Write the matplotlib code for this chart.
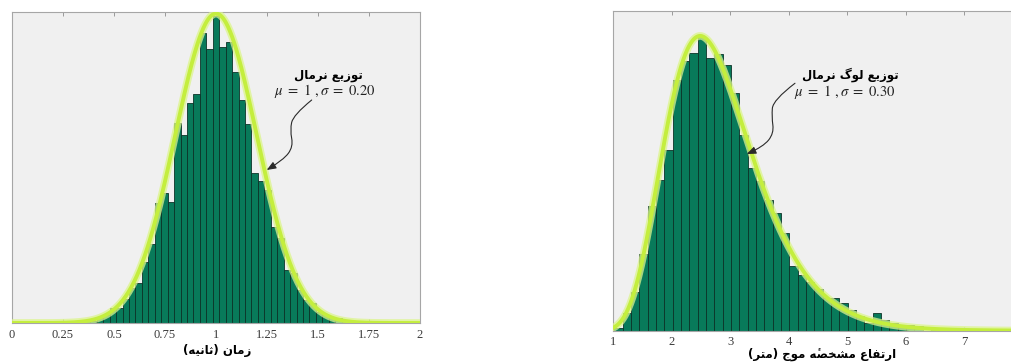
import numpy as np
import matplotlib
matplotlib.use("Agg")
import matplotlib.pyplot as plt
from matplotlib.path import Path
from matplotlib.patches import FancyArrowPatch

# ---------------- data ----------------
# left panel: normal distribution histogram (density)
left_bin_width = 0.0316
left_centers = 1.0 + left_bin_width * np.arange(-23, 27)
left_density = [0.006, 0.006, 0.010, 0.010, 0.013, 0.030, 0.052, 0.095, 0.099, 0.153,
                0.224, 0.260, 0.395, 0.507, 0.772, 0.840, 0.782, 1.287, 1.212, 1.418,
                1.476, 1.868, 1.765, 1.979, 1.777, 1.814, 1.616, 1.438, 1.281, 0.965,
                0.915, 0.857, 0.621, 0.550, 0.342, 0.320, 0.213, 0.148, 0.127, 0.073,
                0.052, 0.041, 0.032, 0.021, 0.013, 0.010, 0.006, 0.005, 0.003, 0.003]
left_mu, left_sigma = 1.0, 0.20
left_ticks = [0, 0.25, 0.5, 0.75, 1, 1.25, 1.5, 1.75, 2]
left_ticklabels = ["0", "0.25", "0.5", "0.75", "1", "1.25", "1.5", "1.75", "2"]
left_xlabel = "زمان (ثانیه)"
left_title = "توزیع نرمال"
left_params = r"$\mu\ =\ 1\ ,\sigma\ =\ 0.20$"

# right panel: log-normal distribution histogram (density)
right_bin_width = 0.1425
right_centers = 1.089 + right_bin_width * np.arange(0, 42)
right_density = [0.0052, 0.0302, 0.0676, 0.134, 0.216, 0.261, 0.313, 0.436, 0.469, 0.482,
                 0.510, 0.473, 0.480, 0.462, 0.413, 0.339, 0.282, 0.260, 0.227, 0.204,
                 0.169, 0.113, 0.097, 0.084, 0.072, 0.057, 0.057, 0.048, 0.036, 0.026,
                 0.013, 0.031, 0.019, 0.013, 0.007, 0.010, 0.009, 0.0, 0.005, 0.0,
                 0.0, 0.004]
right_mu, right_sigma = 1.0, 0.30
right_ticks = [1, 2, 3, 4, 5, 6, 7]
right_ticklabels = ["1", "2", "3", "4", "5", "6", "7"]
right_xlabel = "ارتفاع مشخصهٔ موج (متر)"
right_title = "توزیع لوگ نرمال"
right_params = r"$\mu\ =\ 1\ ,\sigma\ =\ 0.30$"

# ---------------- Arabic/Persian shaping (matplotlib has no RTL shaping) ----------------
FORMS = {
    "\u0627": ("\uFE8D", "\uFE8E", None, None),
    "\u062A": ("\uFE95", "\uFE96", "\uFE97", "\uFE98"),
    "\u062B": ("\uFE99", "\uFE9A", "\uFE9B", "\uFE9C"),
    "\u062C": ("\uFE9D", "\uFE9E", "\uFE9F", "\uFEA0"),
    "\u062E": ("\uFEA5", "\uFEA6", "\uFEA7", "\uFEA8"),
    "\u0631": ("\uFEAD", "\uFEAE", None, None),
    "\u0632": ("\uFEAF", "\uFEB0", None, None),
    "\u0634": ("\uFEB5", "\uFEB6", "\uFEB7", "\uFEB8"),
    "\u0635": ("\uFEB9", "\uFEBA", "\uFEBB", "\uFEBC"),
    "\u0639": ("\uFEC9", "\uFECA", "\uFECB", "\uFECC"),
    "\u0641": ("\uFED1", "\uFED2", "\uFED3", "\uFED4"),
    "\u0644": ("\uFEDD", "\uFEDE", "\uFEDF", "\uFEE0"),
    "\u0645": ("\uFEE1", "\uFEE2", "\uFEE3", "\uFEE4"),
    "\u0646": ("\uFEE5", "\uFEE6", "\uFEE7", "\uFEE8"),
    "\u0647": ("\uFEE9", "\uFEEA", "\uFEEB", "\uFEEC"),
    "\u0648": ("\uFEED", "\uFEEE", None, None),
    "\u06CC": ("\uFBFC", "\uFBFD", "\uFBFE", "\uFBFF"),
    "\u06AF": ("\uFB92", "\uFB93", "\uFB94", "\uFB95"),
}
MARKS = {"\u0654"}


def jtype(c):
    if c in MARKS:
        return "T"
    if c in FORMS:
        return "D" if FORMS[c][2] is not None else "R"
    return "U"


def shape(s):
    chars = list(s)
    out = []
    for i, c in enumerate(chars):
        if c not in FORMS:
            out.append(c)
            continue
        j = i - 1
        while j >= 0 and jtype(chars[j]) == "T":
            j -= 1
        prev_j = j >= 0 and jtype(chars[j]) == "D"
        k = i + 1
        while k < len(chars) and jtype(chars[k]) == "T":
            k += 1
        next_j = (FORMS[c][2] is not None and k < len(chars)
                  and jtype(chars[k]) in ("D", "R"))
        iso, fin, ini, med = FORMS[c]
        if prev_j and next_j:
            out.append(med)
        elif prev_j:
            out.append(fin)
        elif next_j:
            out.append(ini)
        else:
            out.append(iso)
    clusters = []
    for c in out:
        if c in MARKS and clusters:
            clusters[-1] += c
        else:
            clusters.append(c)
    clusters.reverse()
    mirror = {"(": ")", ")": "("}
    return "".join(mirror.get(c, c) for c in clusters)


# ---------------- style ----------------
plt.rcParams["mathtext.fontset"] = "stix"
AX_BG = "#f0f0f0"
BAR_FACE = "#087a5a"
BAR_EDGE = "#0c3328"
GLOW = "#dcf58c"
CORE = "#c4ee3e"
FRAME = "#a6a6a6"
TICKTXT = "#3a3a3a"
PERSIAN = ["DejaVu Sans"]

fig = plt.figure(figsize=(10.12, 3.64), dpi=100)
fig.patch.set_facecolor("white")

axL = fig.add_axes([12 / 1012, 41 / 364, 408 / 1012, 311 / 364])
axR = fig.add_axes([613.3 / 1012, 33.3 / 364, 409.5 / 1012, 319.7 / 364])


def style_axes(ax, ticks, labels):
    ax.set_facecolor(AX_BG)
    for sp in ax.spines.values():
        sp.set_color(FRAME)
        sp.set_linewidth(0.8)
    ax.set_xticks(ticks)
    ax.set_xticklabels(labels, family="Liberation Serif", fontsize=9, color=TICKTXT)
    ax.set_yticks([])
    ax.tick_params(axis="x", direction="in", length=3, width=0.6, color="#8c8c8c",
                   top=True, bottom=True, pad=4)


def normal_pdf(x, mu, s):
    return np.exp(-0.5 * ((x - mu) / s) ** 2) / (s * np.sqrt(2 * np.pi))


def lognormal_pdf(x, mu, s):
    return np.exp(-((np.log(x) - mu) ** 2) / (2 * s * s)) / (x * s * np.sqrt(2 * np.pi))


def wavy_arrow(ax, pts):
    verts = [pts[0]]
    codes = [Path.MOVETO]
    for i in range(1, len(pts) - 1):
        mid = ((pts[i][0] + pts[i + 1][0]) / 2, (pts[i][1] + pts[i + 1][1]) / 2)
        if i == len(pts) - 2:
            mid = pts[-1]
        verts += [pts[i], mid]
        codes += [Path.CURVE3, Path.CURVE3]
    path = Path(verts, codes)
    arr = FancyArrowPatch(path=path, arrowstyle="-|>,head_length=0.55,head_width=0.22",
                          mutation_scale=10, color="#2a2a2a", lw=0.8,
                          transform=ax.transAxes, zorder=6)
    ax.add_patch(arr)


# ---------------- left panel ----------------
style_axes(axL, left_ticks, left_ticklabels)
axL.bar(left_centers, left_density, width=left_bin_width, color=BAR_FACE,
        edgecolor=BAR_EDGE, linewidth=0.6, zorder=2)
xl = np.linspace(0, 2, 600)
yl = normal_pdf(xl, left_mu, left_sigma)
axL.plot(xl, yl, color=GLOW, lw=5.5, alpha=0.75, zorder=3, solid_capstyle="round")
axL.plot(xl, yl, color=CORE, lw=2.8, zorder=4)
axL.set_xlim(0, 2)
axL.set_ylim(0, 2.005)
axL.set_xlabel(shape(left_xlabel), family=PERSIAN, fontweight="bold", fontsize=8.5)
axL.xaxis.set_label_coords(0.504, -0.066)
axL.text(0.7745, 0.797, shape(left_title), transform=axL.transAxes, ha="center",
         va="center", family=PERSIAN, fontweight="bold", fontsize=8.5, zorder=6)
axL.text(0.767, 0.747, left_params, transform=axL.transAxes, ha="center", va="center",
         fontsize=10.5, color="#222222", zorder=6)
wavy_arrow(axL, [(0.7345, 0.717), (0.6895, 0.669), (0.6814, 0.621), (0.6895, 0.567),
                 (0.665, 0.524), (0.6243, 0.492)])

# ---------------- right panel ----------------
style_axes(axR, right_ticks, right_ticklabels)
axR.bar(right_centers, right_density, width=right_bin_width, color=BAR_FACE,
        edgecolor=BAR_EDGE, linewidth=0.6, zorder=2)
xr = np.linspace(1, 8, 800)
yr = lognormal_pdf(xr, right_mu, right_sigma)
axR.plot(xr, yr, color=GLOW, lw=5.5, alpha=0.75, zorder=3, solid_capstyle="round")
axR.plot(xr, yr, color=CORE, lw=2.8, zorder=4)
axR.set_xlim(1, 8)
axR.set_ylim(0, 0.555)
axR.set_xlabel(shape(right_xlabel), family=PERSIAN, fontweight="bold", fontsize=8.5)
axR.xaxis.set_label_coords(0.511, -0.054)
axR.text(0.578, 0.80, shape(right_title), transform=axR.transAxes, ha="center",
         va="center", family=PERSIAN, fontweight="bold", fontsize=8.5, zorder=6)
axR.text(0.566, 0.746, right_params, transform=axR.transAxes, ha="center", va="center",
         fontsize=10.5, color="#222222", zorder=6)
wavy_arrow(axR, [(0.4437, 0.774), (0.390, 0.7216), (0.3868, 0.6694), (0.3924, 0.6175),
                 (0.3663, 0.5755), (0.3258, 0.5527)])

fig.savefig("out.png", dpi=100, facecolor="white")
